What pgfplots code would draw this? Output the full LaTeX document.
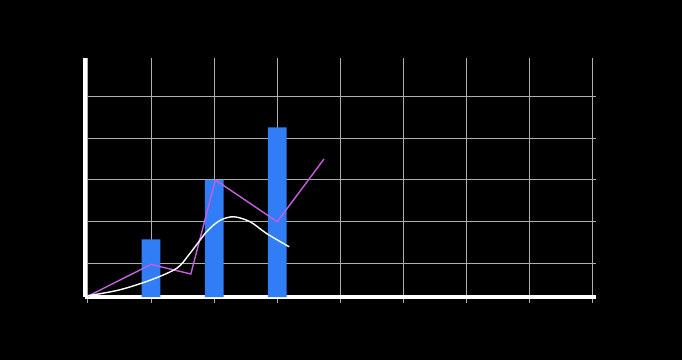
\documentclass[border=0pt]{standalone}
\usepackage{pgfplots}
\pgfplotsset{compat=1.18}
\definecolor{barblue}{RGB}{48,125,245}
\definecolor{lineviolet}{RGB}{196,96,224}
\definecolor{gridgray}{RGB}{175,175,175}
\begin{document}
\begin{tikzpicture}
\fill[black] (0,0) rectangle (682bp,360bp);
\begin{axis}[
  at={(84.8bp,63bp)}, anchor=south west,
  x=63.1bp, y=41.8bp,
  xmin=-0.05, xmax=8.05, ymin=0, ymax=5.72,
  axis lines*=left,
  axis line style={white, line width=4bp, -},
  xtick={0,1,2,3,4,5,6,7,8},
  ytick={0.8,1.8,2.8,3.8,4.8},
  xticklabels={}, yticklabels={},
  grid=major,
  grid style={gridgray, line width=1bp},
  xtick align=outside,
  major tick length=6bp,
  xtick style={gridgray, line width=1bp},
  ytick style={draw=none},
  clip=false,
]
\addplot[ybar, bar width=18.7bp, fill=barblue, draw=none] coordinates {
  (1,1.38) (2,2.80) (3,4.06)
};
\addplot[lineviolet, line width=1.4bp] coordinates {
  (0,0.02) (1,0.78) (1.63,0.55) (2.02,2.80) (3,1.80) (3.74,3.30)
};
\addplot[white, line width=1.4bp, smooth] coordinates {
  (0,0.03) (0.5,0.17) (1,0.41) (1.41,0.69) (1.62,1.05) (1.88,1.56) (2.09,1.83) (2.31,1.92) (2.57,1.80) (2.83,1.52) (3.19,1.20)
};
\end{axis}
\end{tikzpicture}
\end{document}
